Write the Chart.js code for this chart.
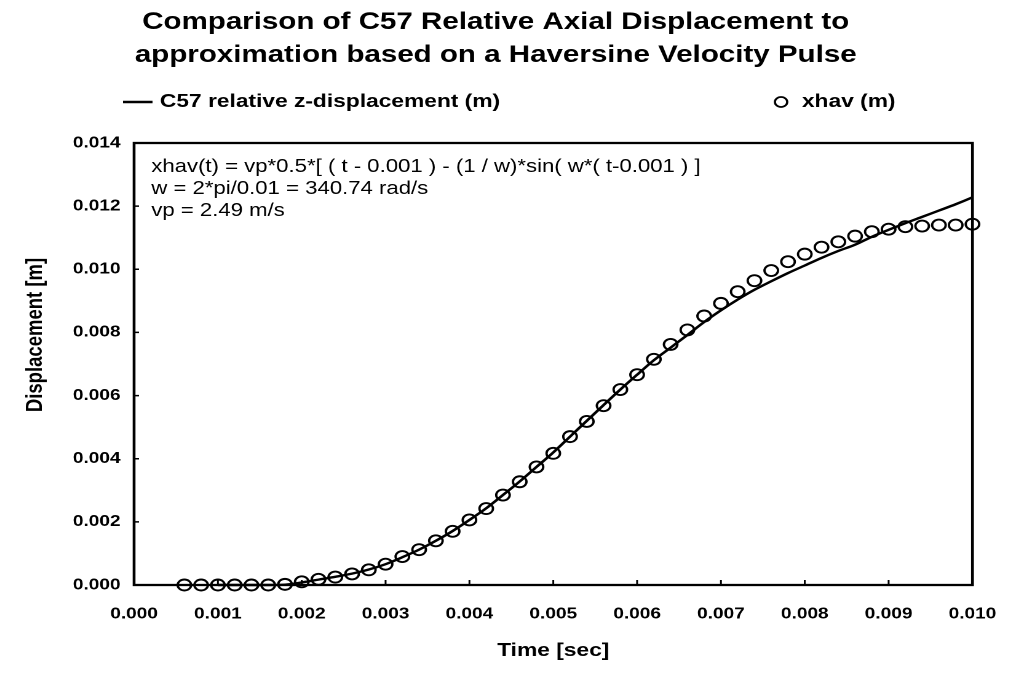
<!DOCTYPE html>
<html>
<head>
    <title>C57 Relative Axial Displacement</title>
    <meta name="viewport" content="width=device-width, initial-scale=1.0">
    <script src="https://cdn.jsdelivr.net/npm/chart.js"></script>
    <style>
    html, body {
        margin: 0;
        padding: 0;
        background: #fff;
        overflow: hidden;
    }
    /* the scanned original is stretched sideways, so the chart is drawn narrow and widened */
    .wrap {
        width: 830px;
        height: 675px;
        transform: scaleX(1.23);
        transform-origin: 0 0;
    }
    </style>
</head>
<body>
<div class="wrap">
    <canvas id="dispChart" width="830" height="675"></canvas>
</div>
<script>
    // time [sec] for the measured C57 curve
    const timeC57 = [0.0010, 0.0012, 0.0014, 0.0016, 0.0018, 0.0020, 0.0022, 0.0024, 0.0026, 0.0028,
                     0.0030, 0.0032, 0.0034, 0.0036, 0.0038, 0.0040, 0.0042, 0.0044, 0.0046, 0.0048,
                     0.0050, 0.0052, 0.0054, 0.0056, 0.0058, 0.0060, 0.0062, 0.0064, 0.0066, 0.0068,
                     0.0070, 0.0072, 0.0074, 0.0076, 0.0078, 0.0080, 0.0082, 0.0084, 0.0086, 0.0088,
                     0.0090, 0.0092, 0.0094, 0.0096, 0.0098, 0.0100, 0.0101];
    const dispC57 = [0, 0, 0, 0, 0.00001, 0.00008, 0.00017, 0.00026, 0.00036, 0.00049,
                     0.00066, 0.00088, 0.00112, 0.00140, 0.00171, 0.00206, 0.00243, 0.00285, 0.00328, 0.00374,
                     0.00420, 0.00470, 0.00520, 0.00570, 0.00619, 0.00666, 0.00712, 0.00752, 0.00792, 0.00833,
                     0.00870, 0.00904, 0.00935, 0.00962, 0.00988, 0.01012, 0.01036, 0.01058, 0.01078, 0.01103,
                     0.01125, 0.01146, 0.01166, 0.01186, 0.01206, 0.01228, 0.01240];

    // time [sec] and values for the haversine approximation (circles)
    const timeHav = [0.0006, 0.0008, 0.0010, 0.0012, 0.0014, 0.0016, 0.0018, 0.0020, 0.0022, 0.0024,
                     0.0026, 0.0028, 0.0030, 0.0032, 0.0034, 0.0036, 0.0038, 0.0040, 0.0042, 0.0044,
                     0.0046, 0.0048, 0.0050, 0.0052, 0.0054, 0.0056, 0.0058, 0.0060, 0.0062, 0.0064,
                     0.0066, 0.0068, 0.0070, 0.0072, 0.0074, 0.0076, 0.0078, 0.0080, 0.0082, 0.0084,
                     0.0086, 0.0088, 0.0090, 0.0092, 0.0094, 0.0096, 0.0098, 0.0100];
    const xhav = [0, 0, 0, 0, 0, 0, 0.00002, 0.00010, 0.00018, 0.00025,
                  0.00035, 0.00048, 0.00066, 0.00090, 0.00112, 0.00140, 0.00170, 0.00206, 0.00242, 0.00285,
                  0.00327, 0.00374, 0.00417, 0.00470, 0.00518, 0.00568, 0.00619, 0.00666, 0.00715, 0.00762,
                  0.00808, 0.00852, 0.00892, 0.00929, 0.00964, 0.00996, 0.01024, 0.01048, 0.01070, 0.01087,
                  0.01105, 0.01119, 0.01127, 0.01135, 0.01137, 0.01140, 0.01140, 0.01143];

    const xTicks = [0.000, 0.001, 0.002, 0.003, 0.004, 0.005, 0.006, 0.007, 0.008, 0.009, 0.010];
    const yTicks = [0.000, 0.002, 0.004, 0.006, 0.008, 0.010, 0.012, 0.014];

    const titleLines = ['Comparison of C57 Relative Axial Displacement to',
                        'approximation based on a Haversine Velocity Pulse'];
    const noteLines = ['xhav(t) = vp*0.5*[ ( t - 0.001 ) - (1 / w)*sin( w*( t-0.001 ) ]',
                       'w = 2*pi/0.01 = 340.74 rad/s',
                       'vp = 2.49 m/s'];
    const yTitle = 'Displacement [m]';

    const FONT = '"Liberation Sans", Arial, Helvetica, sans-serif';

    // box, inward ticks, legend, y title and the formula note
    const framePlugin = {
        id: 'frame',
        afterDatasetsDraw(chart) {
            const {ctx, chartArea: a, scales: {x, y}} = chart;
            ctx.save();
            ctx.strokeStyle = '#000';
            ctx.fillStyle = '#000';
            ctx.lineWidth = 2.3;
            ctx.strokeRect(a.left, a.top, a.right - a.left, a.bottom - a.top);

            ctx.lineWidth = 1.5;
            ctx.beginPath();
            xTicks.forEach(v => {
                const px = x.getPixelForValue(v);
                ctx.moveTo(px, a.bottom);
                ctx.lineTo(px, a.bottom - 5);
            });
            yTicks.forEach(v => {
                const py = y.getPixelForValue(v);
                ctx.moveTo(a.left, py);
                ctx.lineTo(a.left + 4, py);
            });
            ctx.stroke();

            // legend
            ctx.font = 'bold 18.5px ' + FONT;
            ctx.textBaseline = 'middle';
            ctx.textAlign = 'left';
            ctx.lineWidth = 2.4;
            ctx.beginPath();
            ctx.moveTo(100, 102);
            ctx.lineTo(124, 102);
            ctx.stroke();
            ctx.fillText(chart.data.datasets[0].label, 130, 102);
            ctx.lineWidth = 1.8;
            ctx.beginPath();
            ctx.arc(635, 102, 5, 0, Math.PI * 2);
            ctx.stroke();
            ctx.fillText(chart.data.datasets[1].label, 652, 102);

            // y axis title
            ctx.save();
            ctx.translate(29, 335);
            ctx.rotate(-Math.PI / 2);
            ctx.textAlign = 'center';
            ctx.font = 'bold 18.5px ' + FONT;
            ctx.fillText(yTitle, 0, 0);
            ctx.restore();

            // formula note
            ctx.font = '18px ' + FONT;
            ctx.textBaseline = 'alphabetic';
            noteLines.forEach((t, i) => ctx.fillText(t, a.left + 14, 172 + i * 22));
            ctx.restore();
        }
    };

    const data = {
        datasets: [
            {
                label: 'C57 relative z-displacement (m)',
                type: 'line',
                data: timeC57.map((t, i) => ({x: t, y: dispC57[i]})),
                borderColor: '#000',
                borderWidth: 2.4,
                pointRadius: 0,
                cubicInterpolationMode: 'monotone',
                fill: false,
                clip: false,
                order: 0
            },
            {
                label: 'xhav (m)',
                type: 'scatter',
                data: timeHav.map((t, i) => ({x: t, y: xhav[i]})),
                borderColor: '#000',
                backgroundColor: 'rgba(0,0,0,0)',
                borderWidth: 1.9,
                pointRadius: 5.5,
                pointStyle: 'circle',
                clip: false,
                order: 1
            }
        ]
    };

    new Chart(document.getElementById('dispChart'), {
        type: 'scatter',
        data: data,
        plugins: [framePlugin],
        options: {
            responsive: false,
            animation: false,
            devicePixelRatio: 2,
            layout: {padding: {top: 0, right: 24, bottom: 0, left: 0}},
            plugins: {
                legend: {display: false},
                tooltip: {enabled: false},
                title: {
                    display: true,
                    text: titleLines,
                    color: '#000',
                    font: {family: FONT, size: 24, weight: 'bold', lineHeight: 1.375},
                    padding: {top: 6, bottom: 71}
                }
            },
            scales: {
                x: {
                    type: 'linear',
                    min: 0,
                    max: 0.010,
                    afterFit(scale) { scale.height = 90; },
                    afterBuildTicks(scale) { scale.ticks = xTicks.map(v => ({value: v})); },
                    grid: {display: false, drawTicks: false},
                    border: {display: false},
                    ticks: {
                        padding: 20,
                        color: '#000',
                        font: {family: FONT, size: 15.5, weight: 'bold'},
                        callback: v => v.toFixed(3)
                    },
                    title: {
                        display: true,
                        text: 'Time [sec]',
                        color: '#000',
                        font: {family: FONT, size: 18.5, weight: 'bold'},
                        padding: {bottom: 13}
                    }
                },
                y: {
                    type: 'linear',
                    min: 0,
                    max: 0.014,
                    afterFit(scale) { scale.width = 109; },
                    afterBuildTicks(scale) { scale.ticks = yTicks.map(v => ({value: v})); },
                    grid: {display: false, drawTicks: false},
                    border: {display: false},
                    ticks: {
                        padding: 11,
                        color: '#000',
                        font: {family: FONT, size: 15.5, weight: 'bold'},
                        callback: v => v.toFixed(3)
                    },
                    title: {display: false}
                }
            }
        }
    });
</script>
</body>
</html>
